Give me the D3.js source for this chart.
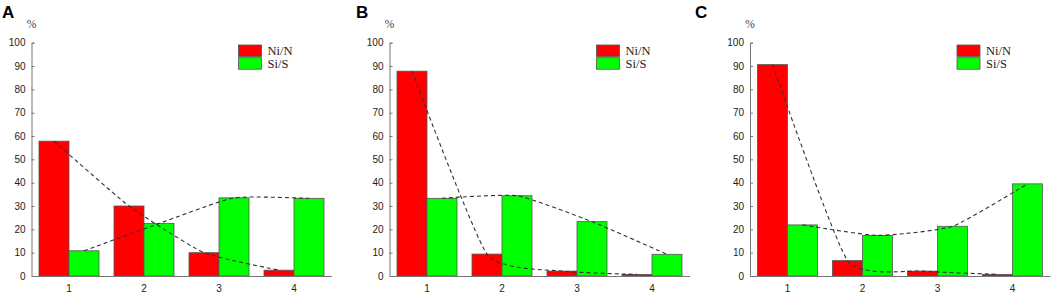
<!DOCTYPE html>
<html>
<head>
<meta charset="utf-8">
<script src="https://cdn.jsdelivr.net/npm/d3@7"></script>
<style>
  body { margin: 0; background: #fff; }
</style>
</head>
<body>
<div class="chart"></div>
<script>
var svgWidth = 1052;
var svgHeight = 294;

// data
var categories = ["1", "2", "3", "4"];
var seriesNames = ["Ni/N", "Si/S"];
var panelLetters = ["A", "B", "C"];
var niA = [57.8, 30.0, 10.0, 2.5];
var siA = [10.8, 22.5, 33.5, 33.3];
var niB = [87.8, 9.4, 2.1, 0.7];
var siB = [33.3, 34.4, 23.3, 9.3];
var niC = [90.6, 6.6, 2.1, 0.7];
var siC = [21.9, 17.4, 21.3, 39.5];
var yTicks = [0, 10, 20, 30, 40, 50, 60, 70, 80, 90, 100];

var panels = [
  { letter: panelLetters[0], ni: niA, si: siA, left: 31.5, letterX: 2 },
  { letter: panelLetters[1], ni: niB, si: siB, left: 389.5, letterX: 356 },
  { letter: panelLetters[2], ni: niC, si: siC, left: 750, letterX: 695 }
];

var colors = ["#ff0000", "#00ff00"];
var serif = "Liberation Serif, Times New Roman, serif";
var plotWidth = 300;
var plotTop = 42.7, plotBottom = 276;

var svg = d3.select(".chart")
  .append("svg")
  .attr("width", svgWidth)
  .attr("height", svgHeight);

var yScale = d3.scaleLinear().domain([0, 100]).range([plotBottom, plotTop]);

panels.forEach(function (p) {
  var g = svg.append("g").attr("transform", `translate(${p.left}, 0)`);

  var xScale = d3.scaleBand()
    .domain(categories)
    .range([0, plotWidth])
    .paddingInner(0.2)
    .paddingOuter(0.1);

  var sub = d3.scaleBand()
    .domain(seriesNames)
    .range([0, xScale.bandwidth()]);

  // bars
  var rows = categories.map((c, i) => ({ cat: c, vals: [p.ni[i], p.si[i]] }));
  var groups = g.selectAll(".grp")
    .data(rows)
    .enter()
    .append("g")
    .attr("transform", d => `translate(${xScale(d.cat)}, 0)`);

  groups.selectAll("rect")
    .data(d => d.vals.map((v, j) => ({ name: seriesNames[j], v: v, j: j })))
    .enter()
    .append("rect")
    .attr("x", d => sub(d.name))
    .attr("y", d => yScale(d.v))
    .attr("width", sub.bandwidth())
    .attr("height", d => yScale(0) - yScale(d.v))
    .attr("fill", d => colors[d.j])
    .attr("stroke", "#555")
    .attr("stroke-width", 0.8);

  // dashed trend curves through bar tops
  var line = d3.line()
    .x(d => d.x)
    .y(d => yScale(d.v))
    .curve(d3.curveCardinal.tension(0.5));

  [p.ni, p.si].forEach(function (vals, j) {
    var pts = categories.map((c, i) => ({
      x: xScale(c) + sub(seriesNames[j]) + sub.bandwidth() / 2,
      v: vals[i]
    }));
    g.append("path")
      .datum(pts)
      .attr("d", line)
      .attr("fill", "none")
      .attr("stroke", "#333")
      .attr("stroke-width", 1.1)
      .attr("stroke-dasharray", "4,3");
  });

  // axes
  var leftAxis = d3.axisLeft(yScale).tickValues(yTicks).tickSize(-3).tickPadding(6);
  var ax = g.append("g")
    .attr("font-family", serif)
    .attr("font-size", 11.5)
    .call(leftAxis);
  ax.select(".domain").attr("stroke", "#777");
  ax.selectAll(".tick line").attr("stroke", "#777");
  ax.selectAll(".tick text").attr("fill", "#222");

  var bottomAxis = d3.axisBottom(xScale).tickSize(0).tickPadding(9);
  var bx = g.append("g")
    .attr("transform", `translate(0, ${plotBottom})`)
    .attr("font-family", serif)
    .attr("font-size", 11.5)
    .call(bottomAxis);
  bx.select(".domain").attr("stroke", "#777").attr("stroke-width", 1.2);
  bx.selectAll(".tick text").attr("fill", "#222");

  // unit label
  g.append("text")
    .attr("x", 0)
    .attr("y", 28)
    .attr("text-anchor", "middle")
    .style("font-family", serif)
    .style("font-size", "11.5px")
    .style("fill", "#444")
    .text("%");

  // legend
  seriesNames.forEach(function (name, j) {
    g.append("rect")
      .attr("x", 207)
      .attr("y", 45 + j * 12.7)
      .attr("width", 23)
      .attr("height", 11.5)
      .attr("fill", colors[j])
      .attr("stroke", "#555")
      .attr("stroke-width", 0.8);
    g.append("text")
      .attr("x", 236)
      .attr("y", 55 + j * 12.7)
      .style("font-family", serif)
      .style("font-size", "12.5px")
      .style("fill", "#222")
      .text(name);
  });

  // panel letter
  svg.append("text")
    .attr("x", p.letterX)
    .attr("y", 17.5)
    .style("font-family", "Liberation Sans, Arial, sans-serif")
    .style("font-weight", "bold")
    .style("font-size", "17px")
    .text(p.letter);
});
</script>
</body>
</html>
